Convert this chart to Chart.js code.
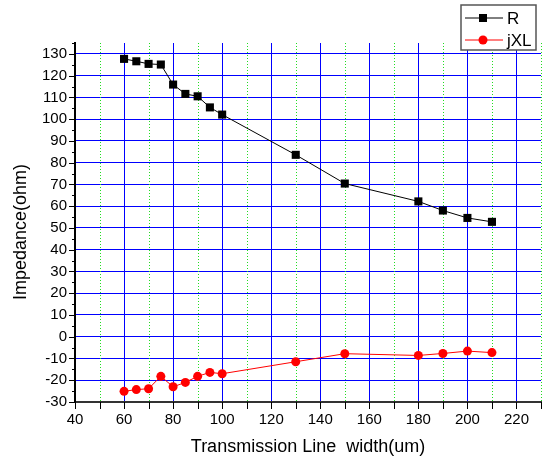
<!DOCTYPE html>
<html>
<head>
<meta charset="utf-8">
<script src="https://cdn.jsdelivr.net/npm/chart.js@4/dist/chart.umd.min.js"></script>
<style>
html,body{margin:0;padding:0;background:#fff;}
#wrap{position:relative;width:550px;height:458px;}
</style>
</head>
<body>
<div id="wrap"><canvas id="c" width="550" height="458"></canvas></div>
<script>
const widths = [60, 65, 70, 75, 80, 85, 90, 95, 100, 130, 150, 180, 190, 200, 210];
const rValues = [127.7, 126.6, 125.4, 125.1, 115.9, 111.6, 110.5, 105.4, 102.1, 83.6, 70.4, 62.2, 58.0, 54.6, 52.8];
const jxlValues = [-25.1, -24.3, -23.9, -18.2, -23.0, -21.0, -18.2, -16.4, -17.0, -11.5, -7.8, -8.6, -7.7, -6.6, -7.3];
const xTitle = 'Transmission Line  width(um)';
const yTitle = 'Impedance(ohm)';
const seriesNames = ['R', 'jXL'];

const FONT = "'Liberation Sans', Arial, sans-serif";

const extras = {
  id: 'extras',
  beforeDatasetsDraw(chart) {
    const ctx = chart.ctx, x = chart.scales.x, y = chart.scales.y, a = chart.chartArea;
    ctx.save();
    // green dotted minor vertical grid
    ctx.strokeStyle = '#22dd22';
    ctx.lineWidth = 1;
    ctx.setLineDash([1, 2]);
    for (let v = 50; v <= 230; v += 20) {
      const px = Math.round(x.getPixelForValue(v)) + 0.5;
      ctx.beginPath(); ctx.moveTo(px, a.top); ctx.lineTo(px, a.bottom); ctx.stroke();
    }
    ctx.setLineDash([]);
    // tick marks
    ctx.strokeStyle = '#000';
    ctx.lineWidth = 1;
    for (let v = 40; v <= 230; v += 10) {
      const px = Math.round(x.getPixelForValue(v)) + 0.5;
      ctx.beginPath(); ctx.moveTo(px, a.bottom); ctx.lineTo(px, a.bottom + 7); ctx.stroke();
    }
    for (let v = -30; v <= 135; v += 5) {
      const py = Math.round(y.getPixelForValue(v)) + 0.5;
      const len = (v % 10 === 0) ? 6 : 3;
      ctx.beginPath(); ctx.moveTo(a.left - len, py); ctx.lineTo(a.left, py); ctx.stroke();
    }
    ctx.restore();
  },
  afterDraw(chart) {
    const ctx = chart.ctx;
    ctx.save();
    // y axis title
    ctx.save();
    ctx.translate(21, 232);
    ctx.rotate(-Math.PI / 2);
    ctx.fillStyle = '#000';
    ctx.font = '18px ' + FONT;
    ctx.textAlign = 'center';
    ctx.textBaseline = 'middle';
    ctx.fillText(yTitle, 0, 0);
    ctx.restore();
    // legend box
    const bx = 461, by = 5, bw = 75, bh = 45;
    ctx.fillStyle = '#fff';
    ctx.fillRect(bx, by, bw, bh);
    ctx.strokeStyle = '#555';
    ctx.lineWidth = 1.5;
    ctx.strokeRect(bx, by, bw, bh);
    chart.data.datasets.forEach((ds, i) => {
      const cy = 18 + i * 22;
      ctx.strokeStyle = ds.borderColor;
      ctx.lineWidth = 1;
      ctx.beginPath(); ctx.moveTo(465, cy); ctx.lineTo(503, cy); ctx.stroke();
      ctx.fillStyle = ds.pointBackgroundColor;
      if (ds.pointStyle === 'rect') {
        ctx.fillRect(479, cy - 4, 8, 8);
      } else {
        ctx.beginPath(); ctx.arc(483, cy, 4.5, 0, Math.PI * 2); ctx.fill();
      }
      ctx.fillStyle = '#000';
      ctx.font = '17px ' + FONT;
      ctx.textBaseline = 'middle';
      ctx.textAlign = 'left';
      ctx.fillText(ds.label, 507, cy + 1);
    });
    ctx.restore();
  }
};

new Chart(document.getElementById('c'), {
  type: 'line',
  data: {
    labels: widths,
    datasets: [
      {
        label: seriesNames[0],
        data: widths.map((w, i) => ({x: w, y: rValues[i]})),
        borderColor: '#000',
        backgroundColor: '#000',
        pointBackgroundColor: '#000',
        pointBorderColor: '#000',
        borderWidth: 1,
        pointStyle: 'rect',
        pointRadius: 5.7,
        pointBorderWidth: 0,
        tension: 0
      },
      {
        label: seriesNames[1],
        data: widths.map((w, i) => ({x: w, y: jxlValues[i]})),
        borderColor: '#ff0000',
        backgroundColor: '#ff0000',
        pointBackgroundColor: '#ff0000',
        pointBorderColor: '#ff0000',
        borderWidth: 1,
        pointStyle: 'circle',
        pointRadius: 4.5,
        pointBorderWidth: 0,
        tension: 0
      }
    ]
  },
  options: {
    responsive: false,
    animation: false,
    layout: {padding: {left: 0, top: 43, right: 4, bottom: 0}},
    plugins: {legend: {display: false}, tooltip: {enabled: false}},
    scales: {
      x: {
        type: 'linear',
        min: 40, max: 230,
        afterFit(s) { s.height = 56; },
        ticks: {
          stepSize: 10,
          autoSkip: false,
          maxRotation: 0,
          padding: 9,
          color: '#000',
          font: {family: FONT, size: 15},
          callback: v => (v % 20 === 0 && v <= 220) ? String(v) : ''
        },
        grid: {
          drawTicks: false,
          color: c => (c.tick && c.tick.value % 20 === 0 && c.tick.value > 40) ? '#0000ff' : 'rgba(0,0,0,0)',
          lineWidth: 1
        },
        border: {display: true, color: '#333', width: 2},
        title: {
          display: true, text: xTitle, color: '#000',
          font: {family: FONT, size: 18}, padding: {top: 0, bottom: 0}
        }
      },
      y: {
        type: 'linear',
        min: -30, max: 135,
        afterFit(s) { s.width = 75; },
        ticks: {
          stepSize: 10,
          autoSkip: false,
          padding: 8,
          color: '#000',
          font: {family: FONT, size: 15},
          callback: v => (v % 10 === 0 && v <= 130) ? String(v) : ''
        },
        afterBuildTicks(s) {
          s.ticks = [];
          for (let v = -30; v <= 130; v += 10) s.ticks.push({value: v});
        },
        grid: {
          drawTicks: false,
          color: c => (c.tick && c.tick.value > -30) ? '#0000ff' : 'rgba(0,0,0,0)',
          lineWidth: 1
        },
        border: {display: true, color: '#000', width: 2},
        title: {display: false}
      }
    }
  },
  plugins: [extras]
});
</script>
</body>
</html>
